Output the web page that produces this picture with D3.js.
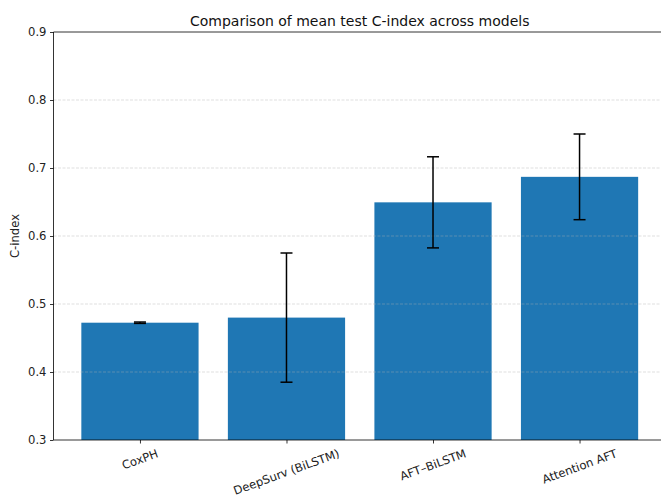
<!DOCTYPE html>
<html>
<head>
<meta charset="utf-8">
<script src="https://cdn.jsdelivr.net/npm/d3@7"></script>
<style>
  body { margin: 0; background: #fff; }
  svg { font-family: "DejaVu Sans", sans-serif; }
</style>
</head>
<body>
<div id="chart"></div>
<script>
"use strict";

// Data
const models = ["CoxPH", "DeepSurv (BiLSTM)", "AFT\u2013BiLSTM", "Attention AFT"];
const meanCIndex = [0.4725, 0.480, 0.6495, 0.687];
const stdCIndex = [0.001, 0.095, 0.067, 0.063];
const yTicks = [0.3, 0.4, 0.5, 0.6, 0.7, 0.8, 0.9];

const w = 661;
const h = 497;
const margin = { top: 32, bottom: 57, left: 53.5, right: -5 };
const tickFont = 11.6;

const svg = d3.select("#chart").append("svg").attr("width", w).attr("height", h);

const x = d3.scaleLinear()
  .domain([-0.59, models.length - 1 + 0.59])
  .range([margin.left, w - margin.right]);
const y = d3.scaleLinear()
  .domain([0.3, 0.9])
  .range([h - margin.bottom, margin.top]);

const barWidth = x(0.8) - x(0);

// Bars
svg.append("g")
  .selectAll("rect")
  .data(meanCIndex)
  .enter()
  .append("rect")
  .attr("x", (d, i) => x(i) - barWidth / 2)
  .attr("y", (d) => y(d))
  .attr("width", barWidth)
  .attr("height", (d) => y(0.3) - y(d))
  .attr("fill", "#1f77b4");

// Grid lines (drawn over the bars, like matplotlib)
svg.append("g")
  .selectAll("line")
  .data(yTicks.slice(1, -1))
  .enter()
  .append("line")
  .attr("x1", x.range()[0])
  .attr("x2", x.range()[1])
  .attr("y1", (d) => y(d))
  .attr("y2", (d) => y(d))
  .attr("stroke", "#b0b0b0")
  .attr("stroke-opacity", 0.5)
  .attr("stroke-width", 0.8)
  .attr("stroke-dasharray", "3,1.5");

// Error bars
const err = svg.append("g")
  .selectAll("g")
  .data(meanCIndex)
  .enter()
  .append("g");

err.append("line")
  .attr("x1", (d, i) => x(i))
  .attr("x2", (d, i) => x(i))
  .attr("y1", (d, i) => y(d - stdCIndex[i]))
  .attr("y2", (d, i) => y(d + stdCIndex[i]))
  .attr("stroke", "#000")
  .attr("stroke-width", 1.5);

[-1, 1].forEach((s) => {
  err.append("line")
    .attr("x1", (d, i) => x(i) - 6)
    .attr("x2", (d, i) => x(i) + 6)
    .attr("y1", (d, i) => y(d + s * stdCIndex[i]))
    .attr("y2", (d, i) => y(d + s * stdCIndex[i]))
    .attr("stroke", "#000")
    .attr("stroke-width", 1.5);
});

// Y axis
const yAxis = svg.append("g")
  .attr("transform", `translate(${margin.left},0)`)
  .call(d3.axisLeft(y).tickValues(yTicks).tickFormat(d3.format(".1f")).tickSize(3.5).tickPadding(3.5));
yAxis.select(".domain").remove();
yAxis.selectAll("line").attr("stroke", "#000").attr("stroke-width", 0.8);
yAxis.selectAll("text").attr("font-size", tickFont).attr("fill", "#222").attr("font-family", "DejaVu Sans");

// X axis ticks
const xAxis = svg.append("g")
  .attr("transform", `translate(0,${y(0.3)})`)
  .call(d3.axisBottom(x).tickValues(d3.range(models.length)).tickSize(3.5).tickFormat(""));
xAxis.select(".domain").remove();
xAxis.selectAll("line").attr("stroke", "#000").attr("stroke-width", 0.8);

// Rotated x labels, bbox top anchored below the tick
const labelTop = y(0.3) + 7;
const angle = 20 * Math.PI / 180;
const labels = svg.append("g")
  .selectAll("text")
  .data(models)
  .enter()
  .append("text")
  .attr("font-size", tickFont)
  .attr("fill", "#222")
  .attr("text-anchor", "middle")
  .attr("dominant-baseline", "central")
  .text((d) => d);

labels.each(function (d, i) {
  const tw = this.getComputedTextLength();
  const th = tickFont * 1.1;
  const bh = tw * Math.sin(angle) + th * Math.cos(angle);
  const cx = x(i);
  const cy = labelTop + bh / 2;
  d3.select(this)
    .attr("x", cx)
    .attr("y", cy)
    .attr("transform", `rotate(-20,${cx},${cy})`);
});

// Spines
const spines = svg.append("g").attr("stroke", "#000").attr("stroke-width", 0.8);
spines.append("line").attr("x1", margin.left).attr("x2", margin.left).attr("y1", y(0.3)).attr("y2", y(0.9));
spines.append("line").attr("x1", margin.left).attr("x2", w).attr("y1", y(0.3)).attr("y2", y(0.3));
spines.append("line").attr("x1", margin.left).attr("x2", w).attr("y1", y(0.9)).attr("y2", y(0.9));

// Y label
svg.append("text")
  .attr("transform", `translate(15,${(y(0.3) + y(0.9)) / 2}) rotate(-90)`)
  .attr("text-anchor", "middle")
  .attr("dominant-baseline", "central")
  .attr("font-size", tickFont)
  .attr("fill", "#222")
  .text("C-index");

// Title
svg.append("text")
  .attr("x", (margin.left + w - margin.right) / 2)
  .attr("y", 25.5)
  .attr("text-anchor", "middle")
  .attr("font-size", 14)
  .attr("fill", "#111")
  .text("Comparison of mean test C-index across models");
</script>
</body>
</html>
